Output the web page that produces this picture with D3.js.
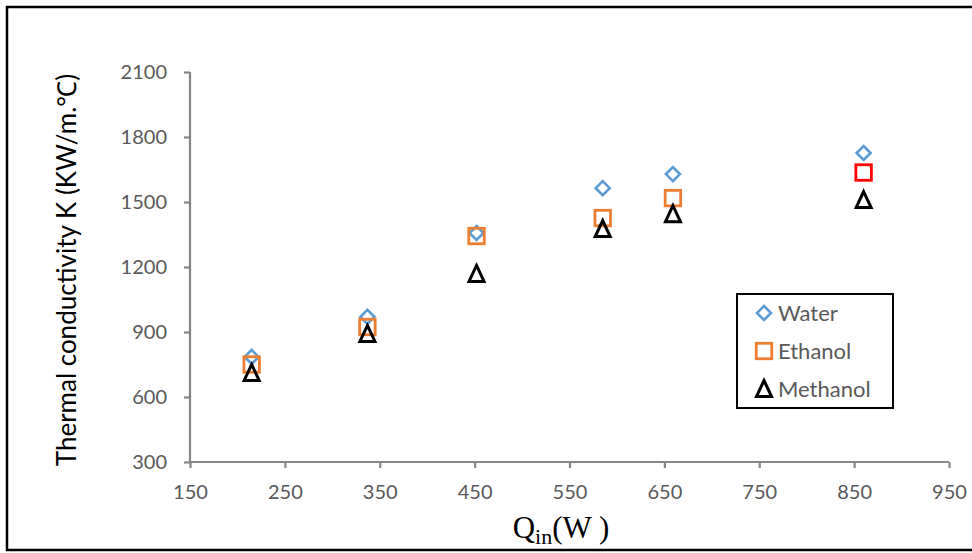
<!DOCTYPE html>
<html>
<head>
<meta charset="utf-8">
<script src="https://cdn.jsdelivr.net/npm/d3@7"></script>
<style>
  html, body { margin: 0; padding: 0; background: #fff; }
  svg { display: block; }
</style>
</head>
<body>
<svg id="chart" width="972" height="553"></svg>
<script>
// Heat input (W) and thermal conductivity K for each working fluid
const heatInput = [215, 337, 452, 585, 659, 860];
const water    = [785, 970, 1357, 1564, 1629, 1726];
const ethanol  = [750, 923, 1343, 1426, 1518, 1636];
const methanol = [711, 891, 1168, 1375, 1444, 1509];
const xTicks = [150, 250, 350, 450, 550, 650, 750, 850, 950];
const yTicks = [300, 600, 900, 1200, 1500, 1800, 2100];
const seriesNames = ["Water", "Ethanol", "Methanol"];

const svg = d3.select("#chart");
const W = 972, H = 553;
const plot = { left: 190, right: 949, top: 72, bottom: 462 };

const x = d3.scaleLinear().domain([150, 950]).range([plot.left, plot.right]);
const y = d3.scaleLinear().domain([300, 2100]).range([plot.bottom, plot.top]);

// outer frame (right edge runs past the page)
svg.append("rect")
  .attr("x", 7).attr("y", 7).attr("width", W + 10).attr("height", 543)
  .attr("fill", "none").attr("stroke", "#000").attr("stroke-width", 2.5);

const axisColor = "#868686";
const tickFont = "Lato, 'Open Sans', sans-serif";

// y axis
const yAxis = svg.append("g")
  .attr("transform", `translate(${plot.left},0)`)
  .call(d3.axisLeft(y).tickValues(yTicks).tickSize(6).tickPadding(17).tickFormat(d3.format("d")));
// x axis
const xAxis = svg.append("g")
  .attr("transform", `translate(0,${plot.bottom})`)
  .call(d3.axisBottom(x).tickValues(xTicks).tickSize(6).tickPadding(17).tickFormat(d3.format("d")));

[yAxis, xAxis].forEach(g => {
  g.select(".domain").attr("stroke", axisColor).attr("stroke-width", 2.2)
    .attr("d", g === yAxis
      ? `M0,${plot.bottom}V${plot.top}`
      : `M${plot.left},0H${plot.right}`);
  g.selectAll(".tick line").attr("stroke", axisColor).attr("stroke-width", 2.2);
  g.selectAll(".tick text").attr("fill", "#595959")
    .style("font-family", tickFont).style("font-size", "20px");
});

// axis titles
svg.append("text")
  .attr("transform", `translate(76,${(plot.top + plot.bottom) / 2 + 3}) rotate(-90)`)
  .attr("text-anchor", "middle")
  .style("font-family", tickFont).style("font-size", "26px").attr("fill", "#000")
  .text("Thermal conductivity K (KW/m.\u2103)");

const xt = svg.append("text")
  .attr("x", 561).attr("y", 538)
  .attr("text-anchor", "middle")
  .style("font-family", "'Liberation Serif', 'DejaVu Serif', serif")
  .style("font-size", "31px").attr("fill", "#000");
xt.append("tspan").text("Q");
xt.append("tspan").attr("dy", 6).style("font-size", "22px").text("in");
xt.append("tspan").attr("dy", -6).text("(W )");

// marker shapes
function diamond(g, cx, cy, color) {
  const r = 7;
  g.append("path")
    .attr("d", `M${cx},${cy - r}L${cx + r},${cy}L${cx},${cy + r}L${cx - r},${cy}Z`)
    .attr("fill", "none").attr("stroke", color).attr("stroke-width", 2.6);
}
function square(g, cx, cy, color) {
  const s = 15.5;
  g.append("rect")
    .attr("x", cx - s / 2).attr("y", cy - s / 2).attr("width", s).attr("height", s)
    .attr("fill", "none").attr("stroke", color).attr("stroke-width", 2.8);
}
function triangle(g, cx, cy, color) {
  const hw = 7.5, h = 15;
  g.append("path")
    .attr("d", `M${cx},${cy - h / 2 - 1}L${cx + hw},${cy + h / 2}L${cx - hw},${cy + h / 2}Z`)
    .attr("fill", "none").attr("stroke", color).attr("stroke-width", 3)
    .attr("stroke-linejoin", "miter");
}

const marks = svg.append("g");
const colors = { water: "#5B9BD5", ethanol: "#ED7D31", methanol: "#000000" };

heatInput.forEach((q, i) => diamond(marks, x(q), y(water[i]), colors.water));
heatInput.forEach((q, i) => square(marks, x(q), y(ethanol[i]),
  i === heatInput.length - 1 ? "#FF0000" : colors.ethanol));
heatInput.forEach((q, i) => triangle(marks, x(q), y(methanol[i]), colors.methanol));

// legend
const lg = svg.append("g");
lg.append("rect")
  .attr("x", 737).attr("y", 294).attr("width", 156).attr("height", 114)
  .attr("fill", "#fff").attr("stroke", "#000").attr("stroke-width", 2);
const shapes = [diamond, square, triangle];
const legendColors = [colors.water, colors.ethanol, colors.methanol];
seriesNames.forEach((name, i) => {
  const cy = 313 + i * 38;
  shapes[i](lg, 764, cy, legendColors[i]);
  lg.append("text")
    .attr("x", 778).attr("y", cy + 8)
    .style("font-family", tickFont).style("font-size", "22px")
    .attr("fill", "#595959").text(name);
});
</script>
</body>
</html>
